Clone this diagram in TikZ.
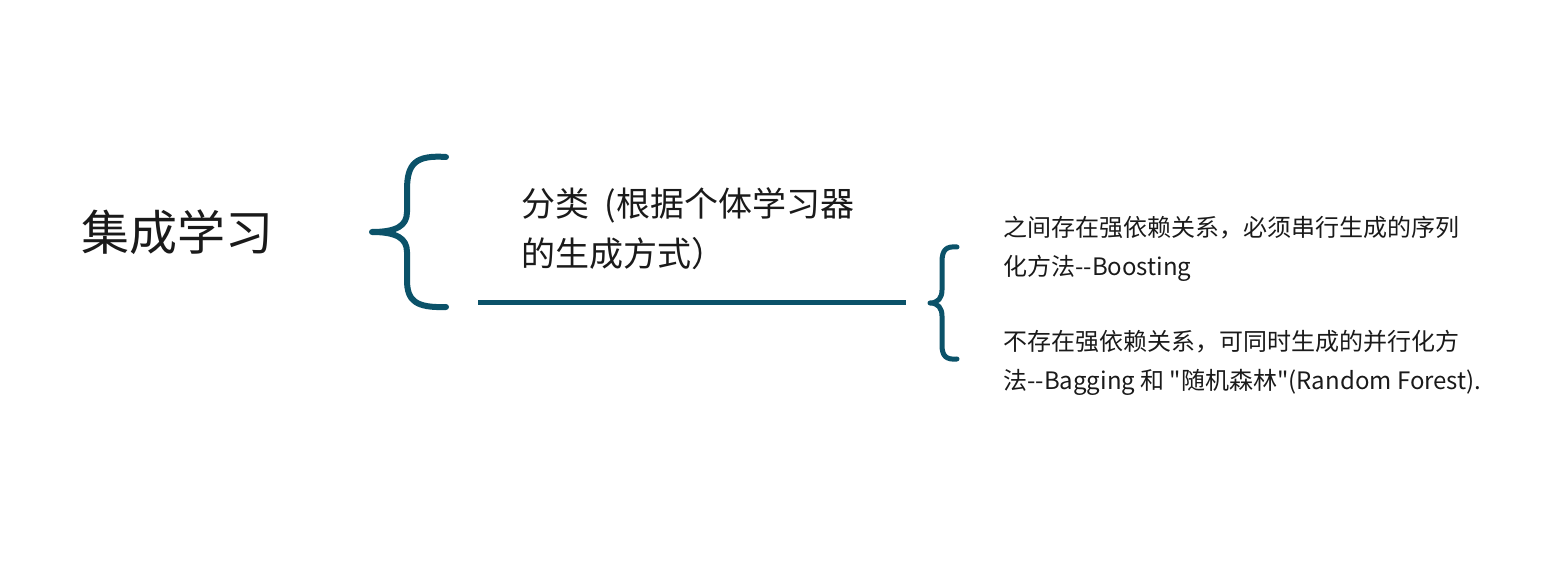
\documentclass[tikz,border=0pt]{standalone}
\usepackage{fontspec}
\setmainfont{Noto Sans CJK SC}[Ligatures=TeXOff]
\usetikzlibrary{positioning}
\definecolor{bracecol}{HTML}{0B5269}
\definecolor{textcol}{HTML}{1A1A1A}

\begin{document}
\begin{tikzpicture}[
    x=0.5pt, y=-0.5pt,
    % 1. 大括号与连线
    bigbrace/.style={
        draw=bracecol,
        line width=3pt,
        line cap=round,
        line join=round
    },
    smallbrace/.style={
        draw=bracecol,
        line width=2.5pt,
        line cap=round,
        line join=round
    },
    baseline/.style={
        draw=bracecol,
        line width=2.5pt
    },
    % 2. 文字
    title/.style={
        font=\fontsize{24pt}{28pt}\selectfont,
        text=textcol,
        inner sep=0pt
    },
    midtext/.style={
        font=\fontsize{17pt}{25pt}\selectfont,
        text=textcol,
        align=left,
        inner sep=0pt,
        anchor=west
    },
    desc/.style={
        font=\fontsize{12pt}{19.5pt}\selectfont,
        text=textcol,
        align=left,
        inner sep=0pt,
        anchor=west
    }
]
    \useasboundingbox (0,0) rectangle (1560,587);

    % --- 1. 文字节点 ---

    % 集成学习
    \node[title] (ensemble) at (178,232) {集成学习};

    % 分类
    \node[midtext] (classify) at (521,229) {分类\hspace{0.45em}(根据个体学习器\\的生成方式）};

    % Boosting
    \node[desc] (boosting) at (1003,249) {之间存在强依赖关系，必须串行生成的序列\\化方法--Boosting};

    % Bagging
    \node[desc] (bagging) at (1003,363) {不存在强依赖关系，可同时生成的并行化方\\法--Bagging 和 "随机森林"(Random Forest).};

    % --- 2. 括号 ---
    \draw[bigbrace] (446,157) .. controls (416,155) and (407,163) .. (407,190)
        -- (407,212) .. controls (407,226) and (396,232) .. (372,232)
        .. controls (396,232) and (407,238) .. (407,252)
        -- (407,280) .. controls (407,301) and (416,308) .. (446,307);

    \draw[smallbrace] (957,247) .. controls (946,246) and (942,250) .. (942,262)
        -- (942,290) .. controls (942,298) and (938,303) .. (930,303)
        .. controls (938,303) and (942,308) .. (942,316)
        -- (942,345) .. controls (942,356) and (946,360) .. (957,359);

    % --- 3. 横线 ---
    \coordinate (lineL) at (478,303);
    \coordinate (lineR) at (906,303);
    \draw[baseline] (lineL) -- (lineR);

\end{tikzpicture}
\end{document}
